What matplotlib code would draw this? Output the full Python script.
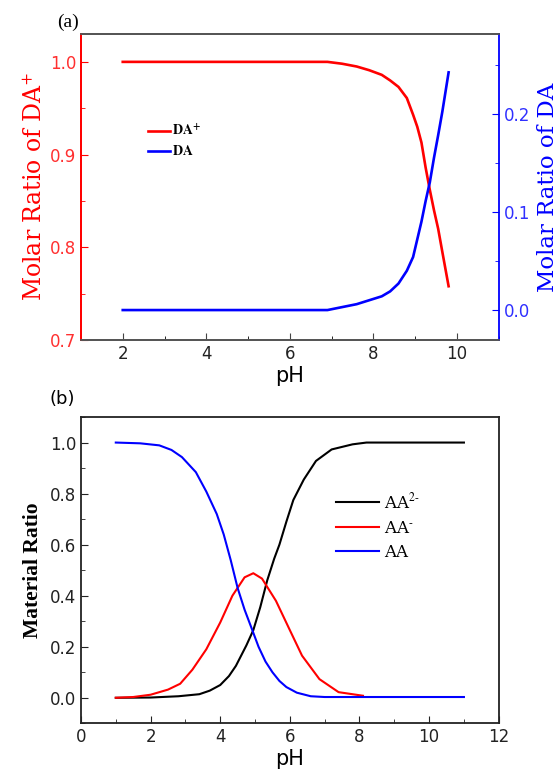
import matplotlib
matplotlib.use('Agg')
import matplotlib.pyplot as plt
from matplotlib.ticker import MultipleLocator

plt.rcParams['mathtext.fontset'] = 'stix'

# (a) dopamine speciation, pH 2 - 9.8
ph_a = [2.0, 3.0, 4.0, 5.0, 6.0, 6.9, 7.25, 7.6, 7.9, 8.2, 8.4, 8.6, 8.8,
        8.95, 9.05, 9.15, 9.25, 9.35, 9.45, 9.55, 9.65, 9.8]
da_plus = [1.0, 1.0, 1.0, 1.0, 1.0, 1.0, 0.998, 0.995, 0.991, 0.986, 0.980,
           0.973, 0.961, 0.943, 0.930, 0.913, 0.886, 0.862, 0.840, 0.820,
           0.795, 0.758]
da = [0.0, 0.0, 0.0, 0.0, 0.0, 0.0, 0.003, 0.006, 0.010, 0.014, 0.019, 0.027,
      0.040, 0.054, 0.072, 0.090, 0.111, 0.130, 0.155, 0.178, 0.202, 0.242]

# (b) ascorbic acid speciation
ph_aa = [1.0, 1.7, 2.25, 2.6, 2.9, 3.3, 3.6, 3.9, 4.1, 4.3, 4.5, 4.7, 4.93,
         5.1, 5.3, 5.5, 5.7, 5.9, 6.2, 6.6, 7.0, 8.0, 9.0, 10.0, 11.0]
aa = [1.0, 0.997, 0.989, 0.971, 0.943, 0.884, 0.808, 0.72, 0.64, 0.54, 0.43,
      0.345, 0.262, 0.2, 0.142, 0.1, 0.066, 0.042, 0.02, 0.006, 0.003, 0.003,
      0.003, 0.003, 0.003]
ph_aam = [1.0, 1.5, 2.0, 2.5, 2.85, 3.2, 3.6, 4.0, 4.35, 4.7, 4.95, 5.2, 5.6,
          6.0, 6.35, 6.85, 7.4, 8.1]
aa_m = [0.0, 0.003, 0.012, 0.032, 0.055, 0.11, 0.19, 0.295, 0.40, 0.472,
        0.488, 0.467, 0.38, 0.265, 0.165, 0.073, 0.022, 0.008]
ph_aa2 = [1.0, 2.0, 2.8, 3.4, 3.7, 4.0, 4.25, 4.45, 4.75, 4.95, 5.15, 5.35,
          5.55, 5.7, 5.9, 6.1, 6.4, 6.75, 7.2, 7.8, 8.2, 9.0, 10.0, 11.0]
aa_2m = [0.0, 0.001, 0.006, 0.014, 0.028, 0.05, 0.085, 0.125, 0.205, 0.265,
         0.355, 0.46, 0.545, 0.6, 0.69, 0.775, 0.855, 0.928, 0.973, 0.993,
         1.0, 1.0, 1.0, 1.0]

serif = 'DejaVu Serif'
sans = 'DejaVu Sans'
red_txt = '#ff3030'
blue_txt = '#3030ff'

fig = plt.figure(figsize=(5.6, 7.74), dpi=100)

# ---- panel (a)
ax = fig.add_axes([0.1446, 0.5607, 0.746, 0.3953])
ax2 = ax.twinx()
l1, = ax.plot(ph_a, da_plus, color='red', lw=1.9)
l2, = ax2.plot(ph_a, da, color='blue', lw=1.9)
ax.set_xlim(1, 11)
ax.set_ylim(0.7, 1.03)
ax2.set_ylim(-0.0305, 0.281)
ax.xaxis.set_major_locator(MultipleLocator(2))
ax.xaxis.set_minor_locator(MultipleLocator(1))
ax.yaxis.set_major_locator(MultipleLocator(0.1))
ax.yaxis.set_minor_locator(MultipleLocator(0.05))
ax2.yaxis.set_major_locator(MultipleLocator(0.1))
ax2.yaxis.set_minor_locator(MultipleLocator(0.05))

for a in (ax, ax2):
    a.tick_params(which='both', direction='in')
    a.tick_params(which='major', length=5)
    a.tick_params(which='minor', length=3)
ax.tick_params(axis='y', which='both', colors='red', labelcolor=red_txt,
               labelsize=12)
ax.tick_params(axis='x', labelsize=12, colors='#444444', labelcolor='#222222')
ax2.tick_params(axis='y', which='both', colors='blue', labelcolor=blue_txt,
                labelsize=12)
for lab in ax.get_xticklabels() + ax.get_yticklabels() + ax2.get_yticklabels():
    lab.set_fontfamily(sans)

ax2.spines['left'].set_color('red')
ax2.spines['right'].set_color('blue')
ax2.spines['top'].set_color('#555555')
ax2.spines['bottom'].set_color('#555555')
ax.spines['left'].set_color('red')
ax.spines['top'].set_color('#555555')
ax.spines['bottom'].set_color('#555555')
ax.spines['right'].set_visible(False)
for s in ax2.spines.values():
    s.set_linewidth(1.3)
for s in ax.spines.values():
    s.set_linewidth(1.3)

ax.set_ylabel(r'Molar Ratio of DA$^{+}$', color='red', fontsize=17,
              family=serif, labelpad=2)
ax2.set_ylabel('Molar Ratio of DA', color='blue', fontsize=16.5,
               family=serif, labelpad=5)
ax.set_xlabel('pH', fontsize=15, family=sans, labelpad=2)

leg = ax2.legend([l1, l2], [r'$\mathbf{DA^{+}}$', r'$\mathbf{DA}$'],
                 loc='upper left', bbox_to_anchor=(0.160, 0.71),
                 frameon=False, fontsize=10, handlelength=1.6,
                 handletextpad=0.15, borderpad=0, borderaxespad=0,
                 labelspacing=0.4)
fig.text(0.121, 0.971, '(a)', fontsize=14, family='Liberation Serif',
         ha='center', va='center')

# ---- panel (b)
bx = fig.add_axes([0.1446, 0.0655, 0.746, 0.3957])
b1, = bx.plot(ph_aa2, aa_2m, color='black', lw=1.5)
b2, = bx.plot(ph_aam, aa_m, color='red', lw=1.5)
b3, = bx.plot(ph_aa, aa, color='blue', lw=1.5)
bx.set_xlim(0, 12)
bx.set_ylim(-0.1, 1.1)
bx.xaxis.set_major_locator(MultipleLocator(2))
bx.xaxis.set_minor_locator(MultipleLocator(1))
bx.yaxis.set_major_locator(MultipleLocator(0.2))
bx.yaxis.set_minor_locator(MultipleLocator(0.1))
bx.tick_params(which='both', direction='in', labelsize=12,
               colors='#222222')
bx.tick_params(which='major', length=5)
bx.tick_params(which='minor', length=3)
for lab in bx.get_xticklabels() + bx.get_yticklabels():
    lab.set_fontfamily(sans)
for s in bx.spines.values():
    s.set_linewidth(1.3)
    s.set_color('#222222')
bx.set_ylabel('Material Ratio', fontsize=15.5, family='Liberation Serif',
              fontweight='bold', labelpad=5)
bx.set_xlabel('pH', fontsize=15, family=sans, labelpad=2)
bx.legend([b1, b2, b3], [r'AA$^{2\text{-}}$', r'AA$^{\text{-}}$', 'AA'],
          loc='upper left', bbox_to_anchor=(0.61, 0.755), frameon=False,
          prop={'family': serif, 'size': 12}, handlelength=2.6,
          handletextpad=0.3, borderpad=0, borderaxespad=0,
          labelspacing=0.45)
fig.text(0.111, 0.4845, '(b)', fontsize=13, family=sans, ha='center',
         va='center')

fig.savefig('out.png', dpi=100)
